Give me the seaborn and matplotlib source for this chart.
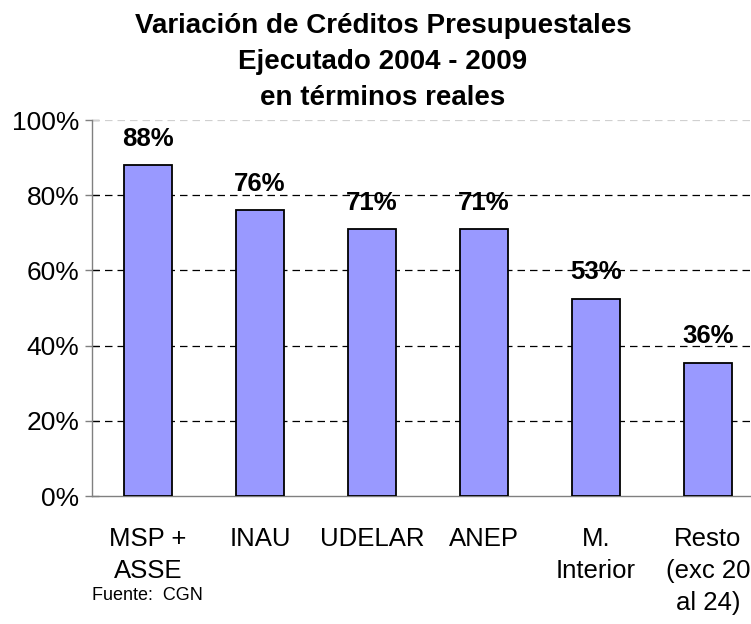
import matplotlib
matplotlib.use("Agg")
import matplotlib.pyplot as plt
import pandas as pd
import seaborn as sns

categorias = ["MSP +\nASSE", "INAU", "UDELAR", "ANEP", "M.\nInterior", "Resto\n(exc 20\nal 24)"]
variacion = [88, 76, 71, 71, 52.5, 35.5]
etiquetas = ["88%", "76%", "71%", "71%", "53%", "36%"]

df = pd.DataFrame({"cat": categorias, "val": variacion})

sns.set_style("white")
plt.rcParams["font.family"] = ["Liberation Sans", "DejaVu Sans"]
plt.rcParams["text.color"] = "black"
plt.rcParams["xtick.color"] = "black"
plt.rcParams["ytick.color"] = "black"

fig = plt.figure(figsize=(7.51, 6.24), dpi=100)
ax = fig.add_axes([92 / 751, 128 / 624, 672 / 751, 376 / 624])

sns.barplot(data=df, x="cat", y="val", color="#9999FF", saturation=1,
            width=0.42, edgecolor="black", linewidth=1.3, ax=ax, zorder=3)

ax.set_ylim(0, 100)
ax.set_xlim(-0.5, 5.5)
ax.set_yticks([0, 20, 40, 60, 80, 100])
ax.set_yticklabels([f"{v}%" for v in [0, 20, 40, 60, 80, 100]], fontsize=19)
for y in [20, 40, 60, 80]:
    ax.axhline(y, color="black", linestyle=(0, (6, 4)), linewidth=0.9, zorder=1)
ax.axhline(100, color="#d0d0d0", linestyle=(0, (6, 4)), linewidth=0.9, zorder=1)

ax.set_xticks([i + 0.5 for i in range(-1, 6)], minor=True)
ax.set_xticks(range(6))
ax.set_xticklabels(categorias, fontsize=18.5, linespacing=1.42, va="top")
ax.tick_params(axis="x", which="major", length=0, pad=22)
ax.tick_params(axis="x", which="minor", length=6, color="#808080", width=1)
ax.tick_params(axis="y", length=10, direction="inout", color="#808080", width=1,
               left=True, pad=4, labelcolor="black")

for s in ["top", "right"]:
    ax.spines[s].set_visible(False)
for s in ["left", "bottom"]:
    ax.spines[s].set_color("#808080")
    ax.spines[s].set_linewidth(1)

ax.set_xlabel("")
ax.set_ylabel("")

for i, (v, t) in enumerate(zip(variacion, etiquetas)):
    ax.text(i, v + 3.8, t, ha="center", va="bottom", fontsize=18.5, fontweight="bold")

fig.text(0.51, 1 - 13 / 624, "Variación de Créditos Presupuestales\nEjecutado 2004 - 2009\nen términos reales",
         ha="center", va="top", fontsize=20, fontweight="bold", linespacing=1.5)
fig.text(92 / 751, 1 - 596 / 624, "Fuente:  CGN", ha="left", va="center", fontsize=13)

fig.savefig("out.png", dpi=100)
